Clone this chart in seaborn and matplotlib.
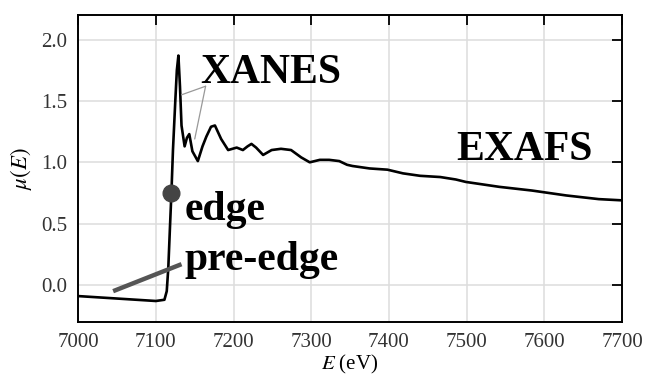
import matplotlib
matplotlib.use("Agg")
import matplotlib.pyplot as plt
import numpy as np
import pandas as pd
import seaborn as sns

# spectrum
energy = [7000, 7050, 7100, 7111, 7114, 7116, 7118, 7120, 7122, 7125, 7127, 7129,
          7131, 7133, 7137, 7140, 7143, 7147, 7154, 7160, 7165, 7171, 7176, 7184,
          7193, 7204, 7212, 7218, 7223, 7229, 7238, 7249, 7261, 7274, 7287, 7298,
          7311, 7323, 7336, 7346, 7353, 7375, 7398, 7418, 7440, 7466, 7486, 7499,
          7542, 7584, 7628, 7670, 7700]
mu = [-0.09, -0.11, -0.13, -0.12, -0.05, 0.14, 0.45, 0.75, 1.10, 1.50, 1.75, 1.87,
      1.62, 1.30, 1.13, 1.20, 1.23, 1.09, 1.01, 1.13, 1.21, 1.29, 1.30, 1.19,
      1.10, 1.12, 1.10, 1.13, 1.15, 1.12, 1.06, 1.10, 1.11, 1.10, 1.04, 1.00,
      1.02, 1.02, 1.01, 0.98, 0.97, 0.95, 0.94, 0.91, 0.89, 0.88, 0.86, 0.84,
      0.80, 0.77, 0.73, 0.70, 0.69]

preedge_e = [7045, 7133]
preedge_mu = [-0.05, 0.17]
edge_e = [7120]
edge_mu = [0.75]

labels = ["XANES", "edge", "pre-edge", "EXAFS"]
label_e = [7157, 7137, 7137, 7486]
label_mu = [1.65, 0.53, 0.12, 1.02]

sns.set_style("whitegrid")
plt.rcParams["font.family"] = ["Liberation Serif", "DejaVu Serif"]
plt.rcParams["mathtext.fontset"] = "stix"
plt.rcParams["text.color"] = "black"
plt.rcParams["axes.labelcolor"] = "black"

df = pd.DataFrame({"E": energy, "mu": mu})

fig = plt.figure(figsize=(6.46, 3.76), dpi=100)
ax = fig.add_axes([0.121, 0.144, 0.842, 0.816])

sns.lineplot(data=df, x="E", y="mu", ax=ax, color="black", linewidth=1.9)
ax.plot(preedge_e, preedge_mu, color="#555555", linewidth=3.2, solid_capstyle="butt")
ax.plot(edge_e, edge_mu, "o", color="#444444", markersize=12, zorder=5)

# thin pointer lines from XANES label
ax.plot([7164, 7133], [1.62, 1.55], color="#999999", linewidth=0.9)
ax.plot([7164, 7150], [1.62, 1.19], color="#999999", linewidth=0.9)

for t, xe, ym in zip(labels, label_e, label_mu):
    ax.text(xe, ym, t, fontsize=30, fontweight="bold", ha="left", va="baseline",
            color="black")

ax.set_xlim(7000, 7700)
ax.set_ylim(-0.3, 2.2)
ax.set_xticks(np.arange(7000, 7701, 100))
ax.set_yticks([0.0, 0.5, 1.0, 1.5, 2.0])
ax.set_yticklabels(["0.0", "0.5", "1.0", "1.5", "2.0"])
ax.grid(True, color="#dddddd", linewidth=1.1)
ax.tick_params(direction="in", length=7, width=1.3, top=True, right=True,
               labelsize=15, pad=8, color="black", labelcolor="#333333")
for s in ax.spines.values():
    s.set_color("black")
    s.set_linewidth(1.4)

ax.set_xlabel(r"$E$ (eV)", fontsize=15, labelpad=1)
ax.set_ylabel(r"$\mu(E)$", fontsize=16.5, labelpad=5)

fig.savefig("out.png", dpi=100)
